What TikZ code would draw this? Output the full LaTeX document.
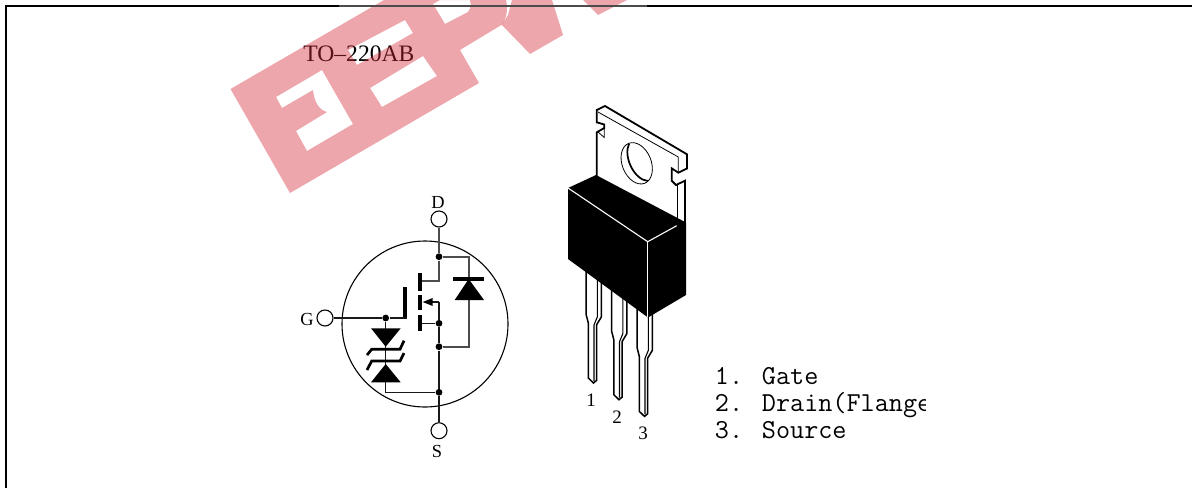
\documentclass[tikz,border=0pt]{standalone}
\usepackage{fontspec}
\setmainfont{Liberation Serif}
\definecolor{wm}{HTML}{D42B37}
\tikzset{
  term/.style={circle,draw=black,fill=white,line width=0.55pt,minimum size=8pt,inner sep=0pt},
  dot/.style={circle,fill=black,minimum size=3.4pt,inner sep=0pt},
  wire/.style={line width=0.55pt,draw=black!90},
  heavywire/.style={line width=0.8pt,draw=black!70},
  plate/.style={fill=black,inner sep=0pt,minimum width=1.8pt},
  lbl/.style={font=\fontsize{9.2pt}{10pt}\selectfont,inner sep=0pt},
  pin/.style={font=\fontsize{9.5pt}{10pt}\selectfont,inner sep=0pt},
  mono/.style={font=\ttfamily\fontsize{13.7pt}{14pt}\selectfont,anchor=base west,inner sep=0pt},
  outl/.style={line width=0.75pt,line join=miter},
  tabl/.style={line width=0.9pt,line join=miter},
  thin/.style={line width=0.4pt},
  whl/.style={draw=white,line width=0.55pt},
  wmark/.style={fill=wm,fill opacity=0.42},
}
\newcommand{\leadshape}[2]{%
  \begin{scope}[shift={(#1,#2)}]
    \fill[white] (586,265)--(586,314)--(588.3,323)--(588.3,378)--(593.5,383)--(596.5,380.5)--(596.5,325)--(601.3,317)--(601.3,265)--cycle;
    \draw[outl] (586,265)--(586,314)--(588.3,323)--(588.3,378)--(593.5,383)--(596.5,380.5)--(596.5,325)--(601.3,317)--(601.3,265);
    \draw[line width=0.55pt] (597.3,265)--(597.3,317)--(594,325)--(594,381);
  \end{scope}}
\begin{document}
\begin{tikzpicture}[x=0.5pt,y=-0.5pt]
\useasboundingbox (0,0) rectangle (1192,488);
% frame
\coordinate (fb) at (6,488);
\coordinate (fc) at (6,6);
\coordinate (fr) at (1192,6);
\draw[line width=0.55pt] (fb)--(fc)--(fr);
% title
\node[anchor=base west,inner sep=0pt,font=\fontsize{11.8pt}{13pt}\selectfont] (title) at (303,61.7) {TO–220AB};
% watermark
\path[wmark,even odd rule]
  (230.5,89)--(290,193)--(479,83)--(460,50)--(503,24) .. controls (507,16) and (508,8) .. (506,0)--(384,0)--cycle
  (276,97)--(322,70)--(353,124)--(307,151)--(296,131)--(327,112) .. controls (318,110) and (314,100) .. (313,90)--(282,108)--cycle
  (348,50)--(405,20)--(413,33)--(357,65)--cycle
  (370,88)--(423,56)--(437,76)--(382,107)--cycle
  (440,0)--(433,4)--(445,24)--(468,12) .. controls (471,8) and (471,4) .. (470,0)--cycle;
\path[wmark] (512,0)--(508,15)--(502,25)--(530,54)--(563,35)--(552,0)--cycle;
\path[wmark] (583,0)--(598,15)--(627,0)--cycle;
\coordinate (ga) at (339,6);
\coordinate (gb) at (647,6);
\draw[line width=0.55pt,black!70] (ga)--(gb);
% symbol
\draw[line width=0.55pt] (425,324) circle[radius=83];
\node[term] (D) at (439,219) {};
\node[term] (S) at (439,430.7) {};
\node[term] (G) at (325,318) {};
\node[lbl] (Dl) at (438,202.5) {D};
\node[lbl] (Sl) at (437,451.5) {S};
\node[lbl] (Gl) at (307,319.5) {G};
\node[dot] (j1) at (439,256.7) {};
\node[dot] (j2) at (439,323.3) {};
\node[dot] (j3) at (439,346.7) {};
\node[dot] (j4) at (439,392.3) {};
\node[dot] (j5) at (385.7,318) {};
\node[plate,minimum height=9pt] (ch1) at (419.7,282) {};
\node[plate,minimum height=7.6pt] (ch2) at (419.7,302.5) {};
\node[plate,minimum height=8pt] (ch3) at (419.7,323) {};
\node[plate,minimum width=2pt,minimum height=15.5pt] (gp) at (405,302.7) {};
\coordinate (dt) at (439,280.7);
\coordinate (st) at (439,302);
\coordinate (dr1) at (468.7,256.7);
\coordinate (dr2) at (468.7,346.7);
\coordinate (zb) at (385.7,392.3);
\draw[heavywire] (D)--(j1)--(dt)--(ch1.east |- dt);
\draw[wire] (st)--(j2)--(j3)--(j4)--(S);
\draw[wire] (st)--(432,302);
\draw[wire] (ch3.east |- j2)--(j2);
\draw[heavywire] (j1)--(dr1)--(dr2)--(j3);
\draw[wire] (G)--(j5)--(gp.east |- j5);
\draw[wire] (j5)--(zb)--(j4);
% arrow of the channel
\fill (422.7,302)--(432.7,298)--(432.7,306)--cycle;
% body diode
\fill (468.7,279)--(484,300)--(454.7,300)--cycle;
\fill (453.3,277)rectangle(484,280.6);
% zener pair
\fill (371,328.3)--(400.7,328.3)--(385.7,346.7)--cycle;
\fill (371,382.3)--(400.7,382.3)--(385.7,364)--cycle;
\draw[line width=1.35pt,line join=miter] (367,355)--(371.7,349.3)--(400,349.3)--(404,340.7);
\draw[line width=1.35pt,line join=miter] (367,370)--(371.7,361)--(400,361)--(404,353);
% leads
\leadshape{0}{0}
\leadshape{25.5}{16.7}
\leadshape{51}{33.4}
% tab
\fill[white] (596.7,110)--(605,106)--(687,154.3)--(687,168.5)--(678.3,172.7)--(671.7,168.3)--(671.7,180.7)--(676,185)--(685,180.7)--(685,225)--(596.7,180)--(596.7,132.3)--(604.3,127)--(596.7,122.3)--cycle;
\draw[tabl] (596.7,176)--(596.7,132.3)--(604.3,128)--(604.3,124.5)--(596.7,122.3)--(596.7,110)--(605,106)--(687,154.3)--(687,168.5)--(678.3,172.7)--(671.7,168.3)--(671.7,180.7)--(676,185)--(685,180.7)--(685,224);
\draw[thin] (598,112)--(678.3,157)--(678.3,172.7);
\draw[thin] (676.9,185)--(676.9,226);
\draw[thin] (598,132)--(604.3,137.5)--(604.3,127);
\draw[line width=0.4pt] (636.7,163.3) ellipse[x radius=14.5,y radius=21.5,rotate=22];
\draw[line width=0.85pt] (629,144) .. controls (623,156) and (634,180) .. (648,181);
% package body
\fill (596,175)--(568,188)--(568,259)--(648,317.5)--(686,295)--(686,222.5)--cycle;
\draw[whl] (568,188)--(647.7,241.7)--(676.7,225.7);
\draw[whl] (647.7,241.7)--(647.7,317);
% pin numbers
\node[pin] (p1) at (591,400) {1};
\node[pin] (p2) at (617,417) {2};
\node[pin] (p3) at (643,433) {3};
% legend
\begin{scope}
\clip (700,360) rectangle (925,450);
\node[mono] (t1) at (714.5,384) {1. Gate};
\node[mono] (t2) at (714.5,411) {2. Drain(Flange};
\node[mono] (t3) at (714.5,438) {3. Source};
\end{scope}
\end{tikzpicture}
\end{document}
